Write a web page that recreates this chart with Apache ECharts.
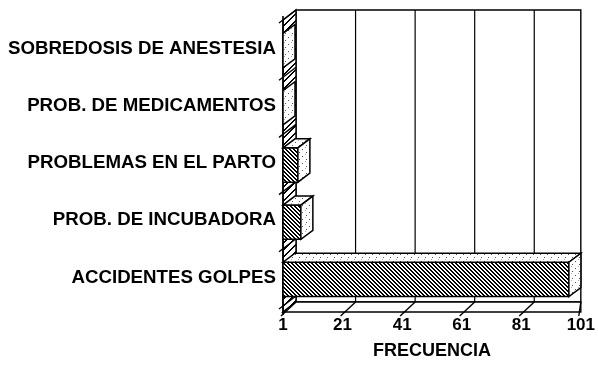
<!DOCTYPE html>
<html>
<head>
<meta charset="utf-8">
<script src="https://cdn.jsdelivr.net/npm/echarts@6/dist/echarts.min.js"></script>
<style>
    body { margin: 0; background: #fff; }
    #chart { width: 598px; height: 365px; }
</style>
</head>
<body>
<div id="chart"></div>
<script>
var categories = ['SOBREDOSIS DE ANESTESIA', 'PROB. DE MEDICAMENTOS', 'PROBLEMAS EN EL PARTO', 'PROB. DE INCUBADORA', 'ACCIDENTES GOLPES'];
var frecuencia = [1, 1, 6, 7, 97];
var xTicks = [1, 21, 41, 61, 81, 101];

// profundidad del efecto 3D
var DX = 13, DY = -10;     // paredes
var BDX = 12, BDY = -9;    // barras
var FLOOR = 6;             // el borde frontal queda bajo la rejilla

// rayado pixel a pixel, sin antialias
function hatch(size, thick, dir) {
    var c = document.createElement('canvas');
    c.width = size; c.height = size;
    var g = c.getContext('2d');
    g.fillStyle = '#fff';
    g.fillRect(0, 0, size, size);
    g.fillStyle = '#000';
    for (var y = 0; y < size; y++) {
        for (var x = 0; x < size; x++) {
            var d = dir == '\\' ? (x - y + size * 2) % size : (x + y) % size;
            if (d < thick) g.fillRect(x, y, 1, 1);
        }
    }
    return c;
}

function dots() {
    var c = document.createElement('canvas');
    c.width = 7; c.height = 7;
    var g = c.getContext('2d');
    g.fillStyle = '#fff';
    g.fillRect(0, 0, 7, 7);
    g.fillStyle = '#555';
    g.fillRect(1, 2, 1, 1);
    g.fillRect(5, 5, 1, 1);
    g.fillStyle = '#aaa';
    g.fillRect(4, 0, 1, 1);
    return c;
}

var barFill = {image: hatch(4, 2, '\\'), repeat: 'repeat'};
var wallFill = {image: hatch(7, 2, '/'), repeat: 'repeat'};
var dotFill = {image: dots(), repeat: 'repeat'};
var edge = {stroke: '#000', lineWidth: 1.5};

function renderFrame(params, api) {
    var cs = params.coordSys;
    var x0 = api.coord([xTicks[0], 0])[0];
    var xr = api.coord([xTicks[xTicks.length - 1], 0])[0];
    var top = cs.y, bot = cs.y + cs.height + FLOOR;
    var ch = [];
    // pared del fondo
    ch.push({type: 'rect', shape: {x: x0 + DX, y: top + DY, width: xr - x0 - DX, height: bot - top},
        style: {fill: '#fff', stroke: '#000', lineWidth: 1.4}});
    for (var i = 1; i < xTicks.length - 1; i++) {
        var gx = api.coord([xTicks[i], 0])[0] + DX;
        ch.push({type: 'line', shape: {x1: gx, y1: top + DY, x2: gx, y2: bot + DY}, style: {stroke: '#000', lineWidth: 1.2}});
    }
    // pared izquierda
    ch.push({type: 'polygon', shape: {points: [[x0, top], [x0 + DX, top + DY], [x0 + DX, bot + DY], [x0, bot]]},
        style: {fill: wallFill, stroke: '#000', lineWidth: 1.4}});
    var band = cs.height / categories.length;
    for (var j = 0; j <= categories.length; j++) {
        var yb = cs.y + j * band;
        ch.push({type: 'line', shape: {x1: x0 - 4, y1: yb + 3, x2: x0 + DX, y2: yb + DY}, style: {stroke: '#000', lineWidth: 1.4}});
    }
    // piso
    ch.push({type: 'polygon', shape: {points: [[x0, bot], [xr, bot], [xr, bot + DY], [x0 + DX, bot + DY]]},
        style: {fill: '#fff', stroke: '#000', lineWidth: 1.4}});
    for (var t = 0; t < xTicks.length; t++) {
        var tx = api.coord([xTicks[t], 0])[0];
        var ex = Math.min(tx + DX, xr);
        ch.push({type: 'line', shape: {x1: tx - 2, y1: bot + 4, x2: ex, y2: bot + DY}, style: {stroke: '#000', lineWidth: 1.4}});
    }
    ch.push({type: 'line', shape: {x1: x0, y1: top - 4, x2: x0, y2: bot + 3}, style: {stroke: '#000', lineWidth: 1.6}});
    return {type: 'group', children: ch};
}

function renderBar(params, api) {
    var v = api.value(0), c = api.value(1);
    var p0 = api.coord([xTicks[0], c]), p1 = api.coord([v, c]);
    var h = api.size([0, 1])[1] * 0.6;
    var x0 = p0[0], x1 = p1[0];
    var yt = p0[1] - h / 2 + 2, yb = yt + h;
    var ch = [];
    if (x1 > x0) {
        ch.push({type: 'rect', shape: {x: x0, y: yt, width: x1 - x0, height: h}, style: Object.assign({fill: barFill}, edge)});
        ch.push({type: 'polygon', shape: {points: [[x0, yt], [x1, yt], [x1 + BDX, yt + BDY], [x0 + BDX, yt + BDY]]},
            style: Object.assign({fill: dotFill}, edge)});
    }
    ch.push({type: 'polygon', shape: {points: [[x1, yt], [x1 + BDX, yt + BDY], [x1 + BDX, yb + BDY], [x1, yb]]},
        style: Object.assign({fill: dotFill}, edge)});
    return {type: 'group', children: ch};
}

var myChart = echarts.init(document.getElementById('chart'));
var bar_data = [];
for (var i = 0; i < frecuencia.length; i++) bar_data.push([frecuencia[i], i]);

var charts_option = {};
charts_option['animation'] = false;
charts_option['grid'] = {left: 283, right: 15, top: 20, bottom: 54, containLabel: false};
charts_option['xAxis'] = {
    type: 'value', min: 1, max: 101, interval: 20, offset: FLOOR,
    axisLine: {show: false}, axisTick: {show: false}, splitLine: {show: false},
    axisLabel: {margin: 5, color: '#000', fontFamily: 'Liberation Sans', fontWeight: 'bold', fontSize: 17},
    name: 'FRECUENCIA', nameLocation: 'middle', nameGap: 30,
    nameTextStyle: {color: '#000', fontFamily: 'Liberation Sans', fontWeight: 'bold', fontSize: 18}
};
charts_option['yAxis'] = {
    type: 'category', data: categories, inverse: true,
    axisLine: {show: false}, axisTick: {show: false}, splitLine: {show: false},
    axisLabel: {margin: 7, color: '#000', fontFamily: 'Liberation Sans', fontWeight: 'bold', fontSize: 18.7}
};
charts_option['series'] = [
    {type: 'custom', z: 1, silent: true, renderItem: renderFrame, data: [[1, 0]], encode: {x: 0, y: 1}},
    {type: 'custom', z: 2, silent: true, renderItem: renderBar, data: bar_data, encode: {x: 0, y: 1}}
];
myChart.setOption(charts_option);
</script>
</body>
</html>
